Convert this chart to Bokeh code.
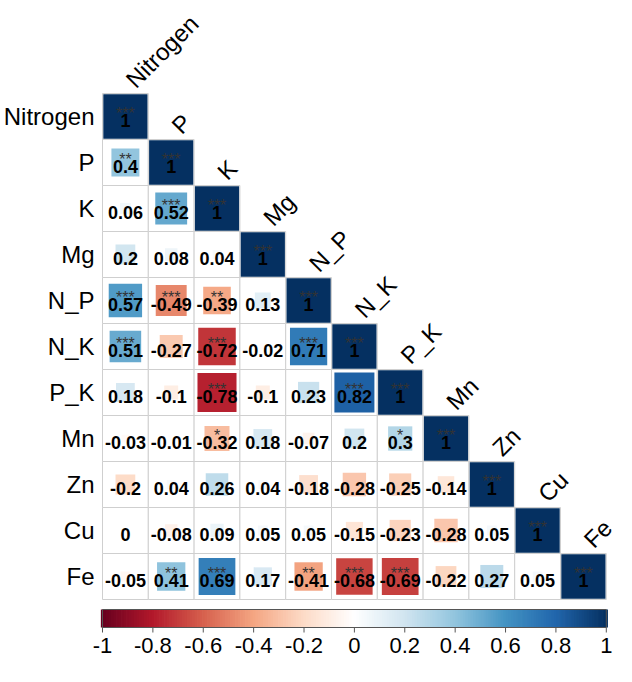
import math
import numpy as np
from bokeh.plotting import figure
from bokeh.models import Range1d, ColumnDataSource
from bokeh.core.properties import value
from bokeh.embed import file_html
from bokeh.resources import INLINE

# ---------------- data ----------------
labels = ["Nitrogen", "P", "K", "Mg", "N_P", "N_K", "P_K", "Mn", "Zn", "Cu", "Fe"]

# lower-triangle correlations, row by row (columns 0..i-1), diagonal = 1
r_P   = [0.40]
r_K   = [0.06, 0.52]
r_Mg  = [0.20, 0.08, 0.04]
r_NP  = [0.57, -0.49, -0.39, 0.13]
r_NK  = [0.51, -0.27, -0.72, -0.02, 0.71]
r_PK  = [0.18, -0.10, -0.78, -0.10, 0.23, 0.82]
r_Mn  = [-0.03, -0.01, -0.32, 0.18, -0.07, 0.20, 0.30]
r_Zn  = [-0.20, 0.04, 0.26, 0.04, -0.18, -0.28, -0.25, -0.14]
r_Cu  = [0.00, -0.08, 0.09, 0.05, 0.05, -0.15, -0.23, -0.28, 0.05]
r_Fe  = [-0.05, 0.41, 0.69, 0.17, -0.41, -0.68, -0.69, -0.22, 0.27, 0.05]

s_P   = ["**"]
s_K   = ["", "***"]
s_Mg  = ["", "", ""]
s_NP  = ["***", "***", "**", ""]
s_NK  = ["***", "", "***", "", "***"]
s_PK  = ["", "", "***", "", "", "***"]
s_Mn  = ["", "", "*", "", "", "", "*"]
s_Zn  = ["", "", "", "", "", "", "", ""]
s_Cu  = ["", "", "", "", "", "", "", "", ""]
s_Fe  = ["", "**", "***", "", "**", "***", "***", "", "", ""]

rows_r = [[], r_P, r_K, r_Mg, r_NP, r_NK, r_PK, r_Mn, r_Zn, r_Cu, r_Fe]
rows_s = [[], s_P, s_K, s_Mg, s_NP, s_NK, s_PK, s_Mn, s_Zn, s_Cu, s_Fe]

cbar_ticks = [-1, -0.8, -0.6, -0.4, -0.2, 0, 0.2, 0.4, 0.6, 0.8, 1]

# corrplot RdBu ramp
anchors = ["#67001F", "#B2182B", "#D6604D", "#F4A582", "#FDDBC7", "#FFFFFF",
           "#D1E5F0", "#92C5DE", "#4393C3", "#2166AC", "#053061"]

def hex2rgb(h):
    h = h.lstrip("#")
    return [int(h[k:k + 2], 16) for k in (0, 2, 4)]

arr = np.array([hex2rgb(a) for a in anchors], dtype=float)
NCOL = 200
pos = np.linspace(0, 1, len(anchors))
t = np.linspace(0, 1, NCOL)
palette = []
for tt in t:
    rgb = [np.interp(tt, pos, arr[:, c]) for c in range(3)]
    palette.append("#%02x%02x%02x" % tuple(int(round(v)) for v in rgb))

def colour(r):
    idx = int(round((r + 1) / 2 * (NCOL - 1)))
    return palette[max(0, min(NCOL - 1, idx))]

# ---------------- layout ----------------
W, H = 616, 666
cw, ch = 45.8, 46.0       # cell size in px
gl, gt = 102, 93          # grid left / top in px
n = len(labels)

p = figure(width=W, height=H,
           x_range=Range1d(-gl / cw, (W - gl) / cw),
           y_range=Range1d((H - gt) / ch, -gt / ch),
           output_backend="svg", toolbar_location=None,
           min_border=0, x_axis_location=None, y_axis_location=None)
p.grid.visible = False
p.outline_line_color = None
p.background_fill_color = "white"
p.border_fill_color = "white"

cx, cy, rv, st, txt, sz, col = [], [], [], [], [], [], []
for i in range(n):
    vals = rows_r[i] + [1.0]
    stars = rows_s[i] + ["***"]
    for j in range(i + 1):
        v = vals[j]
        cx.append(j + 0.5)
        cy.append(i + 0.5)
        rv.append(v)
        st.append(stars[j])
        txt.append(f"{v:g}")
        sz.append(math.sqrt(abs(v)) * 0.965)
        col.append(colour(v))

src = ColumnDataSource(dict(x=cx, y=cy, r=rv, stars=st, text=txt, size=sz, color=col,
                            yn=[y - 0.5 + 27 / ch for y in cy],
                            ys=[y - 0.5 + 20 / ch for y in cy]))

p.rect(x="x", y="y", width=1, height=1, source=src, fill_color="white",
       line_color="#CFCFCF", line_width=1)
p.rect(x="x", y="y", width="size", height="size", source=src, fill_color="color",
       line_color=None)
p.text(x="x", y="yn", text="text", source=src, text_font=value("Liberation Sans"),
       text_font_style="bold", text_font_size="18px", text_align="center",
       text_baseline="middle", text_color="black")
p.text(x="x", y="ys", text="stars", source=src, text_font=value("Liberation Sans"),
       text_font_size="16px", text_align="center", text_baseline="alphabetic",
       text_color="#333333")

# row labels
p.text(x=[-8 / cw] * n, y=[i + 0.5 for i in range(n)], text=labels,
       text_font=value("Liberation Sans"), text_font_size="24px",
       text_align="right", text_baseline="middle", text_color="black")
# column labels (rotated)
p.text(x=[j + 0.6 for j in range(n)], y=[j - 10 / ch for j in range(n)], text=labels,
       angle=math.pi / 4, text_font=value("Liberation Sans"), text_font_size="24px",
       text_align="left", text_baseline="middle", text_color="black")

# colour bar
bar_top = n + 10 / ch
bar_bot = n + 28 / ch
vals_cb = np.linspace(-1, 1, NCOL)
step = n / NCOL
p.rect(x=[(v + 1) / 2 * n for v in vals_cb], y=[(bar_top + bar_bot) / 2] * NCOL,
       width=step * 1.3, height=bar_bot - bar_top, fill_color=palette, line_color=None)
p.rect(x=[n / 2], y=[(bar_top + bar_bot) / 2], width=n, height=bar_bot - bar_top,
       fill_color=None, line_color="#555555", line_width=1)
tx = [(v + 1) / 2 * n for v in cbar_ticks]
p.segment(x0=tx, y0=[bar_bot] * len(tx), x1=tx, y1=[bar_bot + 5 / ch] * len(tx),
          line_color="#555555", line_width=1)
p.text(x=tx, y=[bar_bot + 10 / ch] * len(tx), text=[f"{v:g}" for v in cbar_ticks],
       text_font=value("Liberation Sans"), text_font_size="22px",
       text_align="center", text_baseline="top", text_color="black")

open("out.html", "w").write(file_html(p, INLINE))
